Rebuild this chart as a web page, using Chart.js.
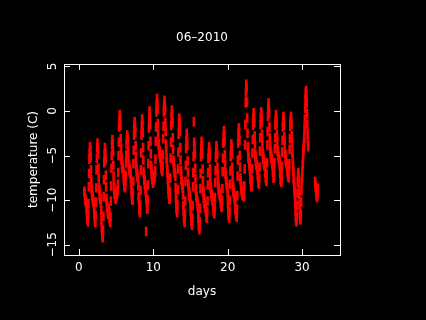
<!DOCTYPE html>
<html>
<head>
<meta charset="utf-8">
<script src="https://cdn.jsdelivr.net/npm/chart.js@4.4.0/dist/chart.umd.min.js"></script>
<style>
  html, body { margin: 0; padding: 0; background: #000; }
  #wrap { width: 426px; height: 320px; }
</style>
</head>
<body>
<div id="wrap"><canvas id="grafico"></canvas></div>
<script>
const titulo = '06–2010';
const ejeX = 'days';
const ejeY = 'temperature (C)';
const xTicks = [0, 10, 20, 30];
const yTicks = [-15, -10, -5, 0, 5];

// hourly readings, first one at day 0.75
const inicio = 0.75;
const temps = [
  -9.0,-9.3,-9.8,-9.9,-10.1,-10.2,
  -10.3,-11.0,-11.3,-12.0,-12.1,-12.4,-11.6,-10.4,-8.5,-7.0,-5.4,-4.7,-4.0,-4.4,-5.2,-6.6,-7.7,-8.7,-8.9,-9.5,-9.5,-9.9,-10.0,-10.2,
  -10.4,-10.8,-11.5,-11.9,-12.3,-12.5,-11.7,-10.2,-8.6,-6.6,-5.3,-4.1,-3.6,-4.1,-4.8,-6.4,-7.5,-8.6,-8.8,-9.4,-9.5,-9.8,-9.9,-10.3,
  -11.2,-12.3,-13.1,-13.5,-14.0,-14.2,-13.3,-11.8,-9.6,-7.7,-5.8,-4.9,-4.1,-4.6,-5.5,-7.2,-8.5,-9.8,-10.1,-10.7,-10.8,-11.2,-11.3,-11.6,
  -11.0,-11.3,-11.4,-12.0,-12.2,-12.5,-11.9,-10.1,-8.4,-6.4,-5.0,-3.8,-3.2,-3.7,-4.5,-6.1,-7.3,-8.4,-8.7,-9.3,-9.3,-9.7,-9.7,-9.9,
  -9.6,-9.5,-9.2,-9.3,-9.0,-8.9,-8.2,-6.9,-5.0,-3.5,-1.8,-1.1,-0.4,-0.8,-1.6,-3.1,-4.2,-5.2,-5.5,-6.0,-6.1,-6.4,-6.4,-6.8,
  -7.0,-7.6,-7.8,-8.3,-8.4,-8.6,-8.0,-7.2,-5.8,-4.9,-3.7,-3.2,-2.7,-3.0,-3.5,-4.6,-5.3,-6.0,-6.1,-6.6,-6.6,-6.9,-6.9,-7.1,
  -7.7,-8.3,-9.0,-9.4,-9.9,-10.0,-9.2,-7.9,-5.9,-4.4,-2.7,-1.9,-1.2,-1.7,-2.4,-3.9,-5.1,-6.1,-6.4,-6.9,-7.0,-7.4,-7.4,-7.7,
  -8.4,-9.6,-10.0,-10.9,-11.1,-11.4,-10.5,-8.9,-6.6,-4.7,-2.7,-1.7,-0.9,-1.4,-2.4,-4.1,-5.5,-6.8,-7.1,-7.7,-7.8,-8.2,-8.3,-8.7,
  -9.1,-13.5,-9.8,-10.2,-10.9,-11.0,-10.0,-8.3,-5.9,-3.9,-1.9,-0.9,0.0,-0.5,-1.5,-3.4,-4.8,-6.1,-6.5,-7.1,-7.3,-7.7,-7.7,-8.1,
  -7.8,-7.7,-7.3,-7.4,-7.3,-7.5,-6.7,-5.4,-3.4,-1.8,-0.1,0.7,1.4,0.9,0.2,-1.4,-2.5,-3.6,-3.8,-4.4,-4.5,-4.8,-4.9,-5.2,
  -5.4,-6.0,-6.1,-6.5,-6.5,-6.8,-6.1,-4.9,-3.1,-1.7,-0.1,0.5,1.2,0.8,0.1,-1.3,-2.3,-3.7,-4.3,-5.3,-5.8,-6.6,-7.0,-7.7,
  -8.2,-8.8,-9.3,-9.4,-9.8,-9.9,-9.0,-7.5,-5.3,-3.5,-1.6,-0.7,0.1,-0.4,-1.3,-3.0,-4.3,-5.5,-5.8,-6.4,-6.5,-6.9,-7.0,-7.3,
  -8.6,-9.6,-10.0,-10.9,-11.1,-11.4,-10.5,-8.8,-6.5,-4.6,-2.6,-1.6,-0.8,-1.3,-2.3,-4.1,-5.5,-6.7,-7.1,-7.7,-7.8,-8.2,-8.3,-8.6,
  -9.4,-10.6,-11.2,-12.0,-12.2,-12.5,-11.6,-10.1,-7.9,-6.1,-4.2,-3.3,-2.5,-3.0,-3.9,-5.6,-6.9,-8.1,-8.4,-9.0,-9.1,-9.5,-9.6,-9.9,
  -10.4,-11.2,-11.6,-12.3,-12.5,-12.8,-12.0,-10.6,-8.5,-6.9,-5.1,-1.2,-3.5,-4.0,-4.8,-6.4,-7.6,-8.7,-9.0,-9.6,-9.6,-10.0,-10.1,-10.4,
  -10.7,-11.6,-12.0,-12.8,-13.0,-13.3,-12.4,-10.9,-8.7,-7.0,-5.1,-4.2,-3.4,-3.9,-4.8,-6.5,-7.8,-8.9,-9.2,-9.8,-9.9,-10.3,-10.4,-10.7,
  -10.9,-10.9,-11.3,-11.4,-11.9,-12.0,-11.3,-10.1,-8.3,-6.9,-5.3,-4.7,-4.0,-4.4,-5.1,-6.5,-7.5,-8.5,-8.7,-9.2,-9.3,-9.6,-9.6,-9.9,
  -10.1,-10.6,-10.7,-11.2,-11.2,-11.5,-10.8,-9.7,-8.0,-6.7,-5.2,-4.5,-3.9,-4.3,-4.9,-6.3,-7.2,-8.2,-8.4,-8.9,-8.9,-9.2,-9.3,-9.5,
  -9.7,-9.8,-10.3,-10.3,-10.7,-10.8,-10.0,-8.7,-6.8,-5.3,-3.6,-2.9,-2.2,-2.6,-3.4,-4.9,-6.0,-7.0,-7.3,-7.8,-7.9,-8.2,-8.3,-8.6,
  -9.2,-10.3,-10.9,-11.6,-11.7,-12.0,-11.2,-10.0,-8.2,-6.7,-5.1,-4.4,-3.7,-4.1,-4.8,-6.3,-7.3,-8.4,-8.6,-9.1,-9.2,-9.5,-9.6,-9.9,
  -10.2,-11.0,-11.1,-11.6,-11.6,-11.9,-11.0,-9.5,-7.3,-5.5,-3.6,-2.7,-1.9,-2.4,-3.3,-5.0,-6.3,-7.5,-7.8,-8.4,-8.5,-8.9,-9.0,-9.3,
  -9.4,-9.3,-9.5,-9.3,-9.6,-9.5,-8.4,-6.5,-3.8,-1.5,0.9,2.0,3.0,2.6,1.0,-0.8,-2.5,-4.0,-4.4,-5.1,-5.3,-5.7,-5.8,-6.2,
  -6.5,-6.9,-7.6,-7.9,-8.4,-8.5,-7.7,-6.5,-4.7,-3.2,-1.6,-0.9,-0.2,-0.6,-1.3,-2.8,-3.8,-4.9,-5.1,-5.6,-5.7,-6.0,-6.1,-6.4,
  -6.6,-7.2,-7.4,-7.9,-8.0,-8.2,-7.5,-6.3,-4.5,-3.0,-1.5,-0.8,-0.1,-0.5,-1.2,-2.6,-3.6,-4.7,-4.9,-5.4,-5.4,-5.8,-5.9,-6.1,
  -6.2,-6.8,-7.0,-7.5,-7.6,-7.9,-7.1,-5.8,-3.8,-2.3,-0.6,0.2,0.9,0.4,-0.3,-1.8,-3.0,-4.0,-4.3,-4.8,-4.9,-5.3,-5.3,-5.6,
  -5.8,-6.1,-6.7,-7.0,-7.5,-7.5,-6.8,-5.8,-4.2,-3.0,-1.6,-1.0,-0.4,-0.8,-1.4,-2.6,-3.5,-4.4,-4.6,-5.0,-5.1,-5.4,-5.4,-5.7,
  -6.0,-6.8,-7.0,-7.7,-7.8,-8.0,-7.3,-6.2,-4.6,-3.3,-1.8,-1.2,-0.6,-1.0,-1.6,-2.9,-3.8,-4.8,-4.9,-5.4,-5.5,-5.8,-5.9,-6.1,
  -6.2,-6.8,-6.9,-7.3,-7.3,-7.5,-6.8,-5.9,-4.3,-3.1,-1.7,-1.2,-0.6,-1.0,-1.5,-2.8,-3.6,-4.7,-5.3,-6.3,-6.8,-7.6,-7.9,-8.6,
  -9.0,-9.5,-10.4,-11.2,-11.9,-12.3,-12.4,-11.8,-10.6,-9.2,-8.0,-7.2,-6.9,-7.4,-8.3,-9.4,-10.5,-11.4,-12.0,-12.2,-11.6,-10.2,-8.9,-7.9,
  -7.5,-6.8,-6.0,-5.3,-4.6,-4.2,-3.8,-3.0,-2.0,-0.9,0.3,1.3,2.0,2.3,1.8,0.9,-0.3,-1.5,-2.6,-3.4,-4.0
];

// last short run after the gap
const colaDias = [31.75, 31.79, 31.83, 31.88, 31.92, 31.96, 32.0, 32.04, 32.08, 32.13];
const colaTemps = [-7.9, -8.2, -8.5, -8.8, -9.1, -9.4, -9.7, -9.5, -9.1, -8.7];

const puntos = temps.map((t, i) => ({ x: inicio + i / 24, y: t }))
  .concat(colaTemps.map((t, i) => ({ x: colaDias[i], y: t })));

const fuente = '12px "DejaVu Sans"';

// black page, white box, inward ticks, R-like labels
const marco = {
  id: 'marco',
  beforeDraw(chart) {
    const c = chart.ctx;
    c.save();
    c.fillStyle = '#000';
    c.fillRect(0, 0, chart.width, chart.height);
    c.restore();
  },
  afterDatasetsDraw(chart) {
    const c = chart.ctx;
    const a = chart.chartArea;
    const sx = chart.scales.x;
    const sy = chart.scales.y;
    c.save();
    c.strokeStyle = '#fff';
    c.lineWidth = 1;
    c.strokeRect(a.left + 0.5, a.top + 0.5, a.right - a.left, a.bottom - a.top);
    c.beginPath();
    xTicks.forEach(v => {
      const px = Math.round(sx.getPixelForValue(v)) + 0.5;
      c.moveTo(px, a.bottom); c.lineTo(px, a.bottom - 6);
      c.moveTo(px, a.top); c.lineTo(px, a.top + 6);
    });
    yTicks.forEach(v => {
      const py = Math.round(sy.getPixelForValue(v)) + 0.5;
      c.moveTo(a.left, py); c.lineTo(a.left + 6, py);
      c.moveTo(a.right, py); c.lineTo(a.right - 6, py);
    });
    c.stroke();

    c.fillStyle = '#fff';
    c.font = fuente;
    c.textAlign = 'center';
    c.textBaseline = 'alphabetic';
    c.fillText(titulo, (a.left + a.right) / 2, 41);
    xTicks.forEach(v => {
      c.fillText(String(v), sx.getPixelForValue(v), a.bottom + 16);
    });
    c.fillText(ejeX, (a.left + a.right) / 2, a.bottom + 40);

    yTicks.forEach(v => {
      c.save();
      c.translate(a.left - 8, sy.getPixelForValue(v));
      c.rotate(-Math.PI / 2);
      c.fillText(String(v).replace('-', '−'), 0, 0);
      c.restore();
    });
    c.save();
    c.translate(a.left - 27, (a.top + a.bottom) / 2);
    c.rotate(-Math.PI / 2);
    c.fillText(ejeY, 0, 0);
    c.restore();
    c.restore();
  }
};

const ctx = document.getElementById('grafico').getContext('2d');
const grafico = new Chart(ctx, {
  type: 'scatter',
  data: {
    datasets: [{
      label: 'temperature',
      data: puntos,
      showLine: false,
      pointStyle: 'line',
      pointRotation: 90,
      pointRadius: 4.8,
      pointBorderWidth: 2.6,
      pointBorderColor: '#ff0000',
      pointBackgroundColor: '#ff0000'
    }]
  },
  options: {
    responsive: true,
    maintainAspectRatio: false,
    animation: false,
    events: [],
    layout: { padding: { top: 64, right: 86, left: 0, bottom: 0 } },
    plugins: { legend: { display: false }, tooltip: { enabled: false }, title: { display: false } },
    scales: {
      x: {
        type: 'linear', min: -2.0, max: 35.1,
        grid: { display: false }, border: { display: false },
        ticks: { display: false },
        afterFit: s => { s.height = 65; }
      },
      y: {
        type: 'linear', min: -16.14, max: 5.27,
        grid: { display: false }, border: { display: false },
        ticks: { display: false },
        afterFit: s => { s.width = 64; }
      }
    }
  },
  plugins: [marco]
});
</script>
</body>
</html>
